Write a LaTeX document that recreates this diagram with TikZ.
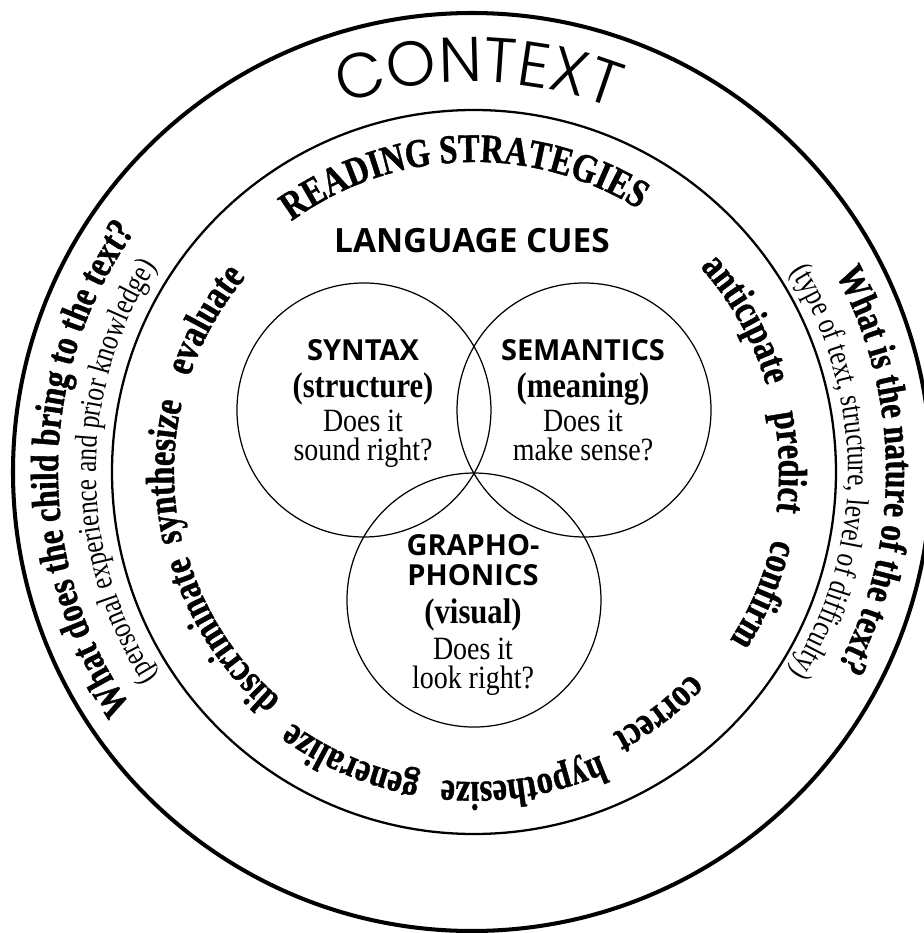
\documentclass[tikz,border=0pt]{standalone}
\usepackage{fontspec}
\setmainfont{Liberation Serif}[FakeStretch=0.86]
\newfontfamily\tallserif{Liberation Serif}[FakeStretch=0.8,BoldFeatures={FakeBold=1}]
\newfontfamily\cuefont{Open Sans}
\newfontfamily\ctxfont{Poppins Light}[LetterSpace=10]
\usetikzlibrary{decorations.text}

\newcommand{\stratfont}{\tallserif\fontsize{23.1}{25}\selectfont\bfseries}
\newcommand{\askfont}{\tallserif\fontsize{22.4}{24}\selectfont\bfseries}
\newcommand{\notefont}{\tallserif\fontsize{18}{20}\selectfont}

% text set clockwise on a circle, centred on the given angle
\newcommand{\ringtext}[4]{%
  \path[decorate,decoration={text along path,text align=center,text={#4}}]
    (#1) ++(#2+90:#3) arc[start angle=#2+90,end angle=#2-90,radius=#3];}

\begin{document}
\begin{tikzpicture}[scale=0.02,
  ring/.style={line width=2.3pt},
  band/.style={line width=1.3pt},
  venn/.style={line width=0.7pt},
  cue/.style={font=\cuefont\bfseries\fontsize{16.5}{18}\selectfont, anchor=base},
  sense/.style={font=\bfseries\fontsize{20.3}{22}\selectfont, anchor=base},
  ask/.style={font=\fontsize{18.5}{20}\selectfont, anchor=base}]
\useasboundingbox (-474,-461) rectangle (449,472);

\coordinate (rim) at (-2,0);
\coordinate (mid) at (0,0);
\draw[ring] (rim) circle (459);
\draw[band] (mid) circle (362);

\coordinate (syn) at (-110,62);
\coordinate (sem) at (110,62);
\coordinate (gra) at (0,-128);
\draw[venn] (syn) circle (127);
\draw[venn] (sem) circle (127);
\draw[venn] (gra) circle (127);

\node[font=\cuefont\bfseries\fontsize{19}{21}\selectfont, anchor=base] (cues) at (-2,219) {LANGUAGE CUES};

\node[cue] (syn1) at (-111,112) {SYNTAX};
\node[sense] (syn2) at (-111,75) {(structure)};
\node[ask] (syn3) at (-111,41) {Does it};
\node[ask] (syn4) at (-111,12) {sound right?};

\node[cue] (sem1) at (109,112) {SEMANTICS};
\node[sense] (sem2) at (109,75) {(meaning)};
\node[ask] (sem3) at (109,41) {Does it};
\node[ask] (sem4) at (109,12) {make sense?};

\node[cue] (gra1) at (-1,-83) {GRAPHO-};
\node[cue] (gra2) at (-1,-113) {PHONICS};
\node[sense] (gra3) at (-1,-151) {(visual)};
\node[ask] (gra4) at (-1,-187) {Does it};
\node[ask] (gra5) at (-1,-216) {look right?};

% outer band
\ringtext{rim}{89}{390}{|\ctxfont\fontsize{36}{38}\selectfont|CONTEXT}
\ringtext{rim}{179.5}{414}{|\askfont|What does the child bring to the text?}
\ringtext{rim}{180}{376}{|\notefont|(personal experience and prior knowledge)}
\ringtext{rim}{0.3}{414}{|\askfont|What is the nature of the text?}
\ringtext{rim}{0}{376}{|\notefont|(type of text, structure, level of difficulty)}

% reading strategies
\ringtext{mid}{92}{310}{|\tallserif\fontsize{23.1}{25}\selectfont\bfseries|READING STRATEGIES}
\ringtext{mid}{150.5}{300}{|\stratfont|evaluate}
\ringtext{mid}{180}{300}{|\stratfont|synthesize}
\ringtext{mid}{213}{298}{|\stratfont|discriminate}
\ringtext{mid}{247}{310}{|\stratfont|generalize}
\ringtext{mid}{279}{310}{|\stratfont|hypothesize}
\ringtext{mid}{307.5}{296}{|\stratfont|correct}
\ringtext{mid}{337}{306}{|\stratfont|confirm}
\ringtext{mid}{1.8}{305}{|\stratfont|predict}
\ringtext{mid}{29.3}{305}{|\stratfont|anticipate}
\end{tikzpicture}
\end{document}
